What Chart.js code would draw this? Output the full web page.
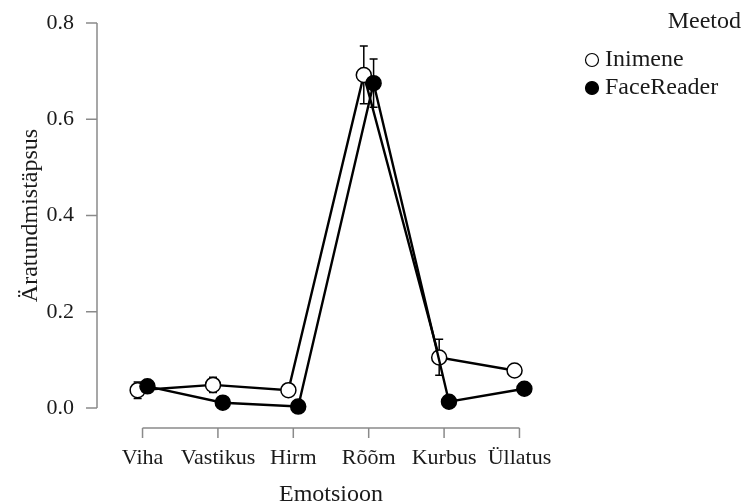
<!DOCTYPE html>
<html>
<head>
<meta charset="utf-8">
<script src="https://cdn.jsdelivr.net/npm/chart.js@4/dist/chart.umd.min.js"></script>
<style>
html,body{margin:0;padding:0;background:#fff;}
#wrap{width:743px;height:504px;}
</style>
</head>
<body>
<div id="wrap"><canvas id="c" width="743" height="504"></canvas></div>
<script>
const categories = ["Viha", "Vastikus", "Hirm", "Rõõm", "Kurbus", "Üllatus"];
const seriesNames = ["Inimene", "FaceReader"];
const inimeneMean = [0.037, 0.048, 0.037, 0.692, 0.105, 0.078];
const inimeneLow  = [0.020, 0.032, 0.032, 0.632, 0.068, 0.071];
const inimeneHigh = [0.054, 0.064, 0.042, 0.752, 0.143, 0.085];
const faceMean = [0.045, 0.011, 0.003, 0.675, 0.013, 0.040];
const faceLow  = [0.037, 0.008, 0.001, 0.625, 0.010, 0.033];
const faceHigh = [0.053, 0.014, 0.005, 0.725, 0.016, 0.047];
const yTicks = [0.0, 0.2, 0.4, 0.6, 0.8];
const legendTitle = "Meetod";
const xTitle = "Emotsioon";
const yTitle = "Äratundmistäpsus";

const dodge = 0.065;
const FONT = "'Liberation Serif', 'Times New Roman', serif";
const AXIS_COLOR = "#8a8a8a";
const TEXT_COLOR = "#1a1a1a";

function pts(vals, off){ return vals.map((v,i)=>({x:i+off, y:v})); }

const errors = [
  {lo: inimeneLow, hi: inimeneHigh, off: -dodge},
  {lo: faceLow, hi: faceHigh, off: dodge}
];

const errorBarPlugin = {
  id: 'errbars',
  beforeDatasetsDraw(chart){
    const ctx = chart.ctx, xs = chart.scales.x, ys = chart.scales.y;
    ctx.save();
    ctx.strokeStyle = '#000';
    ctx.lineWidth = 1.5;
    errors.forEach(e=>{
      e.lo.forEach((lo,i)=>{
        const x = xs.getPixelForValue(i+e.off);
        const y1 = ys.getPixelForValue(lo), y2 = ys.getPixelForValue(e.hi[i]);
        ctx.beginPath();
        ctx.moveTo(x,y1); ctx.lineTo(x,y2);
        ctx.moveTo(x-4,y1); ctx.lineTo(x+4,y1);
        ctx.moveTo(x-4,y2); ctx.lineTo(x+4,y2);
        ctx.stroke();
      });
    });
    ctx.restore();
  }
};

const axesPlugin = {
  id: 'raxes',
  afterDraw(chart){
    const ctx = chart.ctx, xs = chart.scales.x, ys = chart.scales.y;
    const ca = chart.chartArea;
    ctx.save();
    ctx.strokeStyle = AXIS_COLOR;
    ctx.lineWidth = 1.5;
    // y axis
    const yx = ca.left;
    ctx.beginPath();
    ctx.moveTo(yx, ys.getPixelForValue(yTicks[0]));
    ctx.lineTo(yx, ys.getPixelForValue(yTicks[yTicks.length-1]));
    yTicks.forEach(t=>{
      const y = ys.getPixelForValue(t);
      ctx.moveTo(yx, y); ctx.lineTo(yx-11, y);
    });
    ctx.stroke();
    // x axis
    const xy = ca.bottom + 20;
    ctx.beginPath();
    ctx.moveTo(xs.getPixelForValue(0), xy);
    ctx.lineTo(xs.getPixelForValue(categories.length-1), xy);
    categories.forEach((c,i)=>{
      const x = xs.getPixelForValue(i);
      ctx.moveTo(x, xy); ctx.lineTo(x, xy+10);
    });
    ctx.stroke();
    // legend
    ctx.fillStyle = TEXT_COLOR;
    ctx.font = "24px " + FONT;
    ctx.textBaseline = 'middle';
    ctx.textAlign = 'right';
    ctx.fillText(legendTitle, 741, 22);
    ctx.textAlign = 'left';
    const items = [{name: seriesNames[0], fill:'#fff', y:60}, {name: seriesNames[1], fill:'#000', y:88}];
    items.forEach(it=>{
      ctx.beginPath();
      ctx.arc(592, it.y, 6.5, 0, Math.PI*2);
      ctx.fillStyle = it.fill; ctx.fill();
      ctx.strokeStyle = '#000'; ctx.lineWidth = 1.2; ctx.stroke();
      ctx.fillStyle = TEXT_COLOR;
      ctx.fillText(it.name, 605, it.y);
    });
    ctx.restore();
  }
};

new Chart(document.getElementById('c'), {
  type: 'scatter',
  data: {
    datasets: [
      {label: seriesNames[0], data: pts(inimeneMean, -dodge), showLine: true,
       borderColor:'#000', borderWidth:2.4, backgroundColor:'#fff',
       pointRadius:7.5, pointBorderWidth:1.5, pointBorderColor:'#000', pointBackgroundColor:'#fff',
       order: 2, clip: false},
      {label: seriesNames[1], data: pts(faceMean, dodge), showLine: true,
       borderColor:'#000', borderWidth:2.4, backgroundColor:'#000',
       pointRadius:7.5, pointBorderWidth:1.5, pointBorderColor:'#000', pointBackgroundColor:'#000',
       order: 1, clip: false}
    ]
  },
  options: {
    responsive: false,
    animation: false,
    layout: {padding: {left: 0, top: 23, right: 178, bottom: 0}},
    plugins: {legend: {display:false}, tooltip:{enabled:false}},
    scales: {
      x: {
        type: 'linear', min: -0.604, max: 5.604,
        afterBuildTicks(s){ s.ticks = categories.map((c,i)=>({value:i})); },
        afterFit(s){ s.height = 96; s.paddingLeft = 0; s.paddingRight = 0; s.paddingTop = 0; s.paddingBottom = 0; },
        grid: {display:false, drawTicks:false},
        border: {display:false},
        ticks: {padding: 37, color: TEXT_COLOR, font:{family: FONT, size: 22},
                maxRotation:0, autoSkip:false,
                callback: (v)=>categories[v]},
        title: {display:true, text: xTitle, color: TEXT_COLOR, font:{family: FONT, size: 24}, padding:{top:0,bottom:-5}}
      },
      y: {
        type: 'linear', min: 0, max: 0.8,
        afterBuildTicks(s){ s.ticks = yTicks.map(v=>({value:v})); },
        afterFit(s){ s.width = 97; s.paddingLeft = 0; s.paddingRight = 0; s.paddingTop = 0; s.paddingBottom = 0; },
        grid: {display:false, drawTicks:false},
        border: {display:false},
        ticks: {padding: 23, color: TEXT_COLOR, font:{family: FONT, size: 22},
                callback: (v)=>Number(v).toFixed(1)},
        title: {display:true, text: yTitle, color: TEXT_COLOR, font:{family: FONT, size: 24}, padding:{top:16,bottom:0}}
      }
    }
  },
  plugins: [errorBarPlugin, axesPlugin]
});
</script>
</body>
</html>
